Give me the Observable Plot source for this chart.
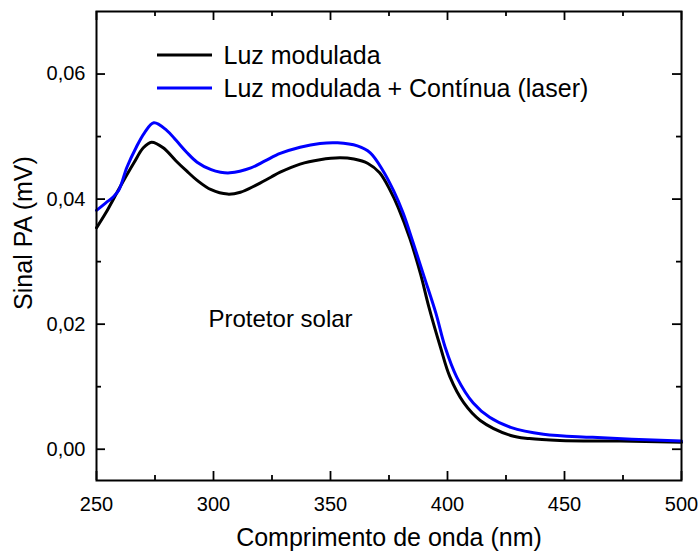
<!DOCTYPE html>
<html>
<head>
<meta charset="utf-8">
<script src="https://cdn.jsdelivr.net/npm/d3@7"></script>
<script src="https://cdn.jsdelivr.net/npm/@observablehq/plot@0.6"></script>
<style>
  html, body { margin: 0; padding: 0; background: #fff; }
  #chart { width: 699px; height: 554px; }
</style>
</head>
<body>
<div id="chart"></div>
<script>
// ---- data ----
const seriesNames = ["Luz modulada", "Luz modulada + Contínua (laser)"];
const seriesColors = ["#000000", "#0000ff"];

const wavelengthBlack = [250, 254, 260, 266, 270, 273.5, 278.5, 284, 288.5, 293, 299, 306, 311.5, 318, 324.5, 328.5, 337, 345.5, 354, 360, 366, 371, 375.5, 379, 384, 388.5, 392, 397, 401, 407, 414, 427, 435, 448, 474, 500];
const signalBlack = [0.0354, 0.0378, 0.0419, 0.0458, 0.0482, 0.0491, 0.0482, 0.0461, 0.0445, 0.0430, 0.0415, 0.0408, 0.0411, 0.0422, 0.0435, 0.0443, 0.0456, 0.0463, 0.0466, 0.0464, 0.0457, 0.0442, 0.0414, 0.0386, 0.0336, 0.0280, 0.0228, 0.0163, 0.0116, 0.0074, 0.0046, 0.0022, 0.0017, 0.0014, 0.0013, 0.0011];

const wavelengthBlue = [250, 254, 257, 259.5, 263, 267, 270.5, 274.5, 280, 284, 288.5, 293, 299, 303, 307, 316, 322, 328.5, 337, 345.5, 353, 361.5, 367, 372.5, 377, 381, 385, 390, 395, 399, 404, 411, 418, 427, 441, 462, 500];
const signalBlue = [0.0382, 0.0394, 0.0403, 0.0414, 0.0451, 0.0483, 0.0506, 0.0522, 0.0510, 0.0494, 0.0475, 0.0459, 0.0447, 0.0443, 0.0442, 0.0450, 0.0461, 0.0473, 0.0483, 0.0489, 0.0490, 0.0485, 0.0474, 0.0445, 0.0413, 0.0378, 0.0334, 0.0276, 0.0218, 0.0163, 0.0115, 0.0074, 0.0051, 0.0035, 0.0024, 0.0019, 0.0013];

const xTicks = [250, 300, 350, 400, 450, 500];
const xMinorTicks = [275, 325, 375, 425, 475];
const yTicks = [0, 0.02, 0.04, 0.06];
const yMinorTicks = [0.01, 0.03, 0.05];
const xDomain = [250, 500];
const yDomain = [-0.005, 0.07];

const xLabel = "Comprimento de onda (nm)";
const yLabel = "Sinal PA (mV)";
const annotation = "Protetor solar";

// ---- layout ----
const W = 699, H = 554;
const mL = 96, mR = 18, mT = 11, mB = 74;
const pw = W - mL - mR, ph = H - mT - mB;
const font = "'Liberation Sans', Arial, Helvetica, sans-serif";

const rows = [
  ...wavelengthBlack.map((x, i) => ({x, y: signalBlack[i], s: seriesNames[0]})),
  ...wavelengthBlue.map((x, i) => ({x, y: signalBlue[i], s: seriesNames[1]}))
];
const fmt = d => d.toFixed(2).replace(".", ",");
const major = 9, minor = 5, tw = 1.8;
const tk = {stroke: "black", strokeWidth: tw};

const chart = Plot.plot({
  width: W, height: H,
  marginLeft: mL, marginRight: mR, marginTop: mT, marginBottom: mB,
  style: {fontFamily: font, background: "#fff"},
  x: {domain: xDomain, axis: null},
  y: {domain: yDomain, axis: null},
  color: {domain: seriesNames, range: seriesColors},
  marks: [
    Plot.line(rows, {x: "x", y: "y", z: "s", stroke: "s", strokeWidth: 3, curve: "catmull-rom"}),
    Plot.frame({stroke: "black", strokeWidth: 2}),
    // inward ticks on all four sides
    Plot.tickX(xTicks, {x: d => d, insetTop: ph - major, ...tk}),
    Plot.tickX(xTicks, {x: d => d, insetBottom: ph - major, ...tk}),
    Plot.tickX(xMinorTicks, {x: d => d, insetTop: ph - minor, ...tk}),
    Plot.tickX(xMinorTicks, {x: d => d, insetBottom: ph - minor, ...tk}),
    Plot.tickY(yTicks, {y: d => d, insetRight: pw - major, ...tk}),
    Plot.tickY(yTicks, {y: d => d, insetLeft: pw - major, ...tk}),
    Plot.tickY(yMinorTicks, {y: d => d, insetRight: pw - minor, ...tk}),
    Plot.tickY(yMinorTicks, {y: d => d, insetLeft: pw - minor, ...tk}),
    // tick labels
    Plot.axisX({ticks: xTicks, tickSize: 0, tickPadding: 16, fontSize: 20, label: null, tickFormat: d => String(d)}),
    Plot.axisY({ticks: yTicks, tickSize: 0, tickPadding: 11, fontSize: 20, label: null, tickFormat: fmt}),
    // axis titles
    Plot.text([xLabel], {frameAnchor: "bottom", dy: 57, lineAnchor: "middle", fontSize: 25, fill: "black"}),
    Plot.text([yLabel], {frameAnchor: "left", dx: -73, dy: -13, rotate: -90, textAnchor: "middle", lineAnchor: "middle", fontSize: 25, fill: "black"}),
    // annotation
    Plot.text([annotation], {frameAnchor: "top-left", dx: 112, dy: 308, textAnchor: "start", lineAnchor: "middle", fontSize: 24, fill: "black"}),
    // legend labels
    Plot.text([seriesNames[0]], {frameAnchor: "top-left", dx: 127, dy: 44, textAnchor: "start", lineAnchor: "middle", fontSize: 25, fill: "black"}),
    Plot.text([seriesNames[1]], {frameAnchor: "top-left", dx: 127, dy: 77, textAnchor: "start", lineAnchor: "middle", fontSize: 25, fill: "black"})
  ]
});

// legend line samples
const svg = d3.select(chart);
const legendY = [55, 88];
seriesColors.forEach((c, i) => {
  svg.append("line")
    .attr("x1", 157).attr("x2", 212)
    .attr("y1", legendY[i]).attr("y2", legendY[i])
    .attr("stroke", c).attr("stroke-width", 3);
});

document.getElementById("chart").appendChild(chart);
</script>
</body>
</html>
